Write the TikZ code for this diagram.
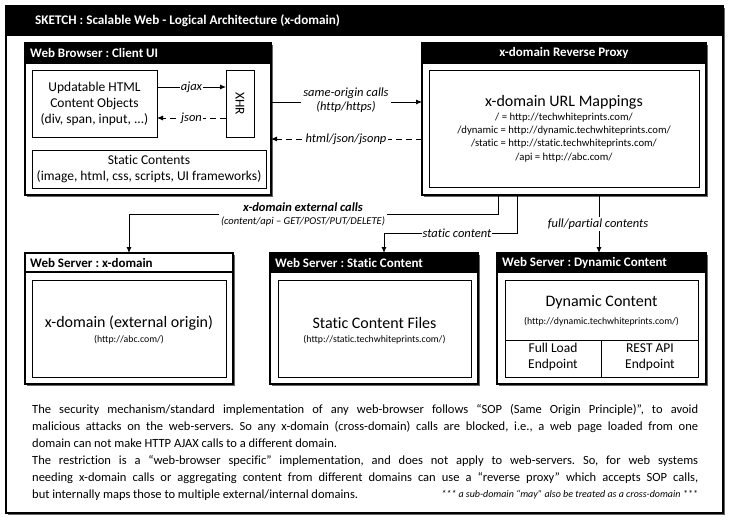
\documentclass[tikz,border=0pt]{standalone}
\usepackage{fontspec}
\setmainfont{Carlito}[Ligatures=NoCommon]
\usetikzlibrary{arrows.meta,shadows}
\frenchspacing
\begin{document}
\begin{tikzpicture}[x=1pt,y=-1pt,
  box/.style={draw=black, line width=1.1pt, fill=white, inner sep=0pt, outer sep=0pt, anchor=north west},
  shbox/.style={box, drop shadow={shadow xshift=1.6pt, shadow yshift=-1.6pt, fill=black!60, opacity=1}},
  ibox/.style={draw=black, line width=0.9pt, fill=white, inner sep=0pt, outer sep=0pt, anchor=north west},
  hdr/.style={fill=black, draw=black, line width=1.1pt, inner sep=0pt, outer sep=0pt, anchor=north west},
  hdrtext/.style={text=white, font=\fontsize{13}{15}\selectfont\bfseries, inner sep=0pt, anchor=west},
  bodyfont/.style={font=\fontsize{13.5}{16}\selectfont, align=center, inner sep=0pt},
  bigfont/.style={font=\fontsize{16}{18}\selectfont, inner sep=0pt},
  urlfont/.style={font=\fontsize{10.7}{12}\selectfont, inner sep=0pt},
  smallfont/.style={font=\fontsize{9.8}{11}\selectfont, inner sep=0pt},
  clabel/.style={font=\fontsize{12.5}{14}\selectfont\itshape, fill=white, inner sep=1.5pt, align=center},
  conn/.style={draw=black, line width=0.9pt},
  arr/.style={conn, -{Latex[length=6pt,width=5pt]}},
  darr/.style={arr, dash pattern=on 6pt off 4pt},
  para/.style={font=\fontsize{12.5}{17}\selectfont, inner sep=0pt, anchor=base west}
]
\useasboundingbox (0,0) rectangle (731,524);
\fill[white] (0,0) rectangle (731,524);

% outer frame and title
\node[shbox, minimum width=717pt, minimum height=507pt] (frame) at (6,6) {};
\node[hdr, minimum width=717pt, minimum height=29pt] (titlebar) at (6,6) {};
\node[hdrtext, font=\fontsize{13.2}{15}\selectfont\bfseries] (title) at (35,21) {SKETCH : Scalable Web - Logical Architecture (x-domain)};

% Web browser
\node[shbox, minimum width=246pt, minimum height=152pt] (browser) at (25,43) {};
\node[hdr, minimum width=246pt, minimum height=20pt] (browserhdr) at (25,43) {};
\node[hdrtext] (browsertitle) at (30,53) {Web Browser : Client UI};
\node[ibox, minimum width=125pt, minimum height=67pt] (upd) at (32,70) {};
\node[bodyfont] (updtext) at (upd.center) {Updatable HTML\\Content Objects\\(div, span, input, ...)};
\node[ibox, minimum width=28pt, minimum height=67pt] (xhr) at (226,70) {};
\node[bodyfont, rotate=-90] (xhrtext) at (xhr.center) {XHR};
\node[ibox, minimum width=234pt, minimum height=38pt] (stat) at (32,150) {};
\node[bodyfont] (stattext) at (stat.center) {Static Contents\\(image, html, css, scripts, UI frameworks)};

\draw[arr] (upd.east |- 0,87) -- node[clabel, inner sep=1pt] (ajax) {ajax} (xhr.west |- 0,87);
\draw[darr] (xhr.west |- 0,118) -- node[clabel, inner sep=1pt] (json) {json} (upd.east |- 0,118);

% Reverse proxy
\node[shbox, minimum width=284pt, minimum height=152pt] (proxy) at (422,43) {};
\node[hdr, minimum width=284pt, minimum height=20pt] (proxyhdr) at (422,43) {};
\node[hdrtext, anchor=center] (proxytitle) at (proxyhdr.center) {x-domain Reverse Proxy};
\node[ibox, minimum width=270pt, minimum height=117pt] (map) at (429,70) {};
\node[bigfont] (maptitle) at (564,102) {x-domain URL Mappings};
\node[urlfont] (map1) at (564,118) {/ = http://techwhiteprints.com/};
\node[urlfont] (map2) at (564,131) {/dynamic = http://dynamic.techwhiteprints.com/};
\node[urlfont] (map3) at (564,144) {/static = http://static.techwhiteprints.com/};
\node[urlfont] (map4) at (564,158) {/api = http://abc.com/};

% browser <-> proxy
\draw[arr] (browser.east |- 0,102) -- (proxy.west |- 0,102);
\node[clabel, inner sep=2pt] (samelab) at (346,100.5) {same-origin calls\\(http/https)};
\draw[darr] (proxy.west |- 0,139) -- (browser.east |- 0,139);
\node[clabel, inner sep=2pt] (htmllab) at (346,139) {html/json/jsonp};

% Web servers
\node[shbox, minimum width=208pt, minimum height=131pt] (xdom) at (25,253) {};
\draw[line width=1.1pt] (xdom.north west |- 0,272) -- (xdom.north east |- 0,272);
\node[hdrtext, text=black] (xdomtitle) at (30,262.5) {Web Server : x-domain};
\node[ibox, minimum width=194pt, minimum height=97pt] (xdomin) at (32,280) {};
\node[bigfont] (xdomtext) at (129,323) {x-domain (external origin)};
\node[smallfont] (xdomurl) at (129,340) {(http://abc.com/)};

\node[shbox, minimum width=208pt, minimum height=131pt] (stsrv) at (270,253) {};
\node[hdr, minimum width=208pt, minimum height=19pt] (stsrvhdr) at (270,253) {};
\node[hdrtext] (stsrvtitle) at (275,262.5) {Web Server : Static Content};
\node[ibox, minimum width=193pt, minimum height=97pt] (stsrvin) at (278,280) {};
\node[bigfont] (stsrvtext) at (374.5,323) {Static Content Files};
\node[smallfont] (stsrvurl) at (374.5,340) {(http://static.techwhiteprints.com/)};

\node[shbox, minimum width=209pt, minimum height=131pt] (dyn) at (497,253) {};
\node[hdr, minimum width=209pt, minimum height=19pt] (dynhdr) at (497,253) {};
\node[hdrtext] (dyntitle) at (502,262.5) {Web Server : Dynamic Content};
\node[ibox, minimum width=193pt, minimum height=97pt] (dynin) at (505,280) {};
\draw[line width=0.9pt] (dynin.west |- 0,340) -- (dynin.east |- 0,340);
\draw[line width=0.9pt] (601.5,340) -- (dynin.south -| 601.5,0);
\node[bigfont] (dyntext) at (601.5,302) {Dynamic Content};
\node[smallfont] (dynurl) at (601.5,322) {(http://dynamic.techwhiteprints.com/)};
\node[bodyfont, anchor=north] (fullload) at (553,343) {\vphantom{l}Full Load\\Endpoint};
\node[bodyfont, anchor=north] (restapi) at (650,343) {\vphantom{l}REST API\\Endpoint};

% proxy -> servers
\coordinate (xdcorner) at (129,214);
\coordinate (stcorner) at (384,233);
\draw[arr] (proxy.south -| 498,0) |- (xdcorner) -- (xdom.north);
\node[fill=white, inner sep=2pt, align=center] (xdlab) at (303,214.5)
  {{\fontsize{12.5}{14}\selectfont\bfseries\itshape x-domain external calls}\\[1pt]
   {\fontsize{10.5}{12}\selectfont\itshape (content/api – GET/POST/PUT/DELETE)}};
\draw[arr] (proxy.south -| 517,0) |- (stcorner) -- (stsrv.north -| stcorner);
\node[clabel, inner sep=1pt] (stlab) at (457,233) {static content};
\draw[arr] (proxy.south -| 599,0) -- (dyn.north -| 599,0);
\node[clabel, inner sep=1.5pt] (fplab) at (598,224) {full/partial contents};

% bottom paragraph
\node[para] (l1) at (32,413.5) {\makebox[666pt][s]{The security mechanism/standard implementation of any web-browser follows “SOP (Same Origin Principle)”, to avoid}};
\node[para] (l2) at (32,430.5) {\makebox[666pt][s]{malicious attacks on the web-servers. So any x-domain (cross-domain) calls are blocked, i.e., a web page loaded from one}};
\node[para] (l3) at (32,447.5) {domain can not make HTTP AJAX calls to a different domain.};
\node[para] (l4) at (32,464.5) {\makebox[666pt][s]{The restriction is a “web-browser specific” implementation, and does not apply to web-servers. So, for web systems}};
\node[para] (l5) at (32,481.5) {\makebox[666pt][s]{needing x-domain calls or aggregating content from different domains can use a “reverse proxy” which accepts SOP calls,}};
\node[para] (l6) at (32,498.5) {but internally maps those to multiple external/internal domains.};
\node[para, anchor=base east, font=\fontsize{10}{12}\selectfont\itshape] (note) at (698,497.5) {*** a sub-domain “may” also be treated as a cross-domain ***};
\end{tikzpicture}
\end{document}
